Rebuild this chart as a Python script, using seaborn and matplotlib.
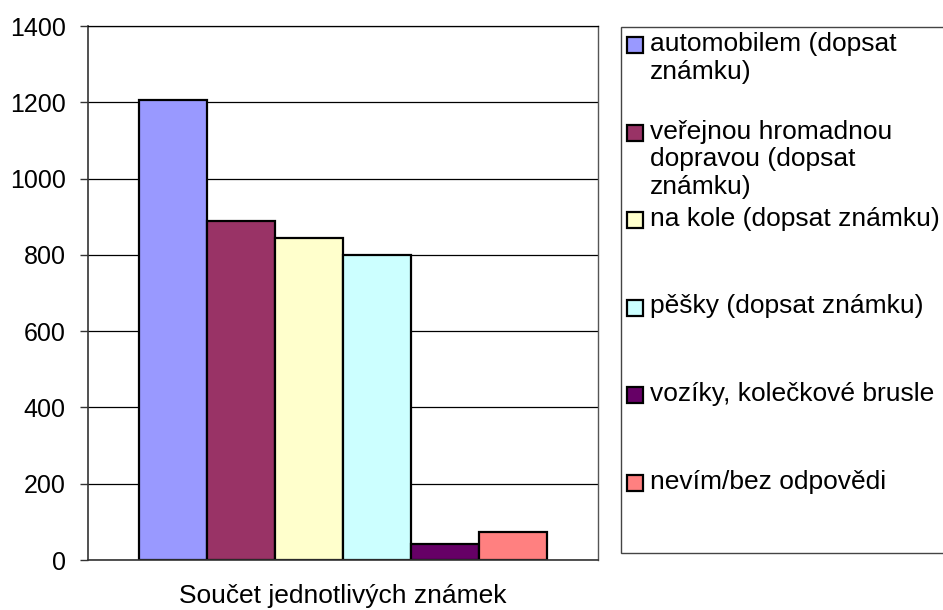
import pandas as pd
import numpy as np
import seaborn as sns
import matplotlib.pyplot as plt
from matplotlib.patches import Rectangle

# Data
category = "Součet jednotlivých známek"
modes = [
    "automobilem (dopsat známku)",
    "veřejnou hromadnou dopravou (dopsat známku)",
    "na kole (dopsat známku)",
    "pěšky (dopsat známku)",
    "vozíky, kolečkové brusle",
    "nevím/bez odpovědi",
]
legend_labels = [
    "automobilem (dopsat\nznámku)",
    "veřejnou hromadnou\ndopravou (dopsat\nznámku)",
    "na kole (dopsat známku)",
    "pěšky (dopsat známku)",
    "vozíky, kolečkové brusle",
    "nevím/bez odpovědi",
]
counts = [1205, 890, 845, 800, 42, 73]
colors = ["#9999FF", "#993366", "#FFFFCC", "#CCFFFF", "#660066", "#FF8080"]
yticks = [0, 200, 400, 600, 800, 1000, 1200, 1400]

df = pd.DataFrame({"cat": [category] * len(modes), "mode": modes, "count": counts})

sns.set_style("white")
plt.rcParams["font.family"] = ["Liberation Sans", "DejaVu Sans"]
plt.rcParams["text.color"] = "black"
plt.rcParams["xtick.labelcolor"] = "black"
plt.rcParams["ytick.labelcolor"] = "black"

W, H = 943, 610
fig = plt.figure(figsize=(W / 100, H / 100), dpi=100)
ax = fig.add_axes([88 / W, 1 - 560 / H, 510 / W, (560 - 26) / H])

sns.barplot(data=df, x="cat", y="count", hue="mode", hue_order=modes,
            palette=colors, saturation=1, edgecolor="black", linewidth=1.6,
            width=0.8, dodge=True, legend=False, ax=ax)

ax.set_xlim(-0.5, 0.5)
ax.set_ylim(0, 1400)
ax.set_yticks(yticks)
ax.yaxis.grid(True, color="black", linewidth=0.9)
ax.set_axisbelow(True)
ax.set_xlabel("")
ax.set_ylabel("")

# category tick marks at the group boundaries
ax.set_xticks([0])
ax.set_xticklabels([category])
ax.set_xticks([-0.5, 0.5], minor=True)
ax.tick_params(axis="x", which="major", length=0, pad=17, labelsize=19)
ax.tick_params(axis="x", which="minor", length=6, width=1, color="#333333", direction="out")
ax.tick_params(axis="y", length=6, width=1, color="#333333", direction="out",
               left=True, pad=10, labelsize=18)

for side in ["left", "bottom"]:
    ax.spines[side].set_color("#333333")
    ax.spines[side].set_linewidth(1.2)
ax.spines["right"].set_color("#555555")
ax.spines["right"].set_linewidth(1.0)
ax.spines["top"].set_color("black")
ax.spines["top"].set_linewidth(0.9)

# Legend box drawn like the Excel one (partly cut at the right edge)
fig.add_artist(Rectangle((621 / W, 1 - 553 / H), (W + 10 - 621) / W, (553 - 27) / H,
                         transform=fig.transFigure, facecolor="white",
                         edgecolor="#444444", linewidth=1.0, clip_on=False))
first, step = 45, 87.5
for i, (lab, col) in enumerate(zip(legend_labels, colors)):
    yc = first + step * i
    fig.add_artist(Rectangle((627 / W, 1 - (yc + 8) / H), 16 / W, 16 / H,
                             transform=fig.transFigure, facecolor=col,
                             edgecolor="black", linewidth=1.6))
    fig.text(650 / W, 1 - (yc - 13) / H, lab, ha="left", va="top",
             fontsize=19, linespacing=1.2)

fig.savefig("out.png", dpi=100)
